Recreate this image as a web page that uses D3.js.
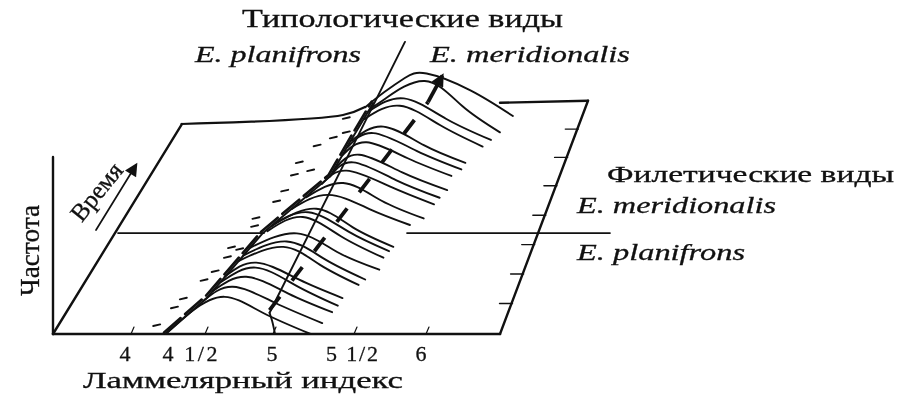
<!DOCTYPE html>
<html lang="en">

<head>
    <meta charset="UTF-8">
    <title>Ламмелярный индекс</title>
    <script src="https://d3js.org/d3.v7.min.js"></script>
    <style>
        html, body {
            margin: 0;
            background: #fff;
        }

        svg {
            display: block;
            filter: blur(0.45px);
        }

        text {
            font-family: "Liberation Serif", serif;
            fill: #111;
            stroke: #111;
            stroke-width: 0.3px;
        }

        .it {
            font-style: italic;
        }
    </style>
</head>

<body>
    <script>
        // Values. Index = lamellar index, freq = 0-100, time = 0-100
        const indexTicks = [4, 4.5, 5, 5.5, 6];
        const indexLabels = ["4", "4 1/2", "5", "5 1/2", "6"];
        const timeTicks = [14, 27.5, 41, 54.5, 68, 81, 94];

        const curveTimes = [0, 5, 10, 13, 16.5, 22.5, 25, 29.5, 35, 38, 40, 50, 53, 59.5, 62.5, 66, 72.5, 75.5, 78.5, 86, 89, 92.5, 100];
        const curveIndex = [
            [4.22, 4.40, 4.63, 4.91, 5.22],
            [4.43, 4.64, 4.95, 5.25],
            [4.45, 4.69, 5.00, 5.27],
            [4.48, 4.73, 5.02, 5.28],
            [4.47, 4.70, 5.01, 5.28],
            [4.51, 4.84, 5.09, 5.33],
            [4.52, 4.84, 5.10, 5.35],
            [4.53, 4.87, 5.14, 5.40],
            [4.60, 4.86, 5.12, 5.38],
            [4.60, 4.87, 5.14, 5.39],
            [4.61, 4.91, 5.15, 5.40],
            [4.63, 4.90, 5.17, 5.42],
            [4.71, 4.98, 5.22, 5.48],
            [4.76, 4.94, 5.22, 5.49],
            [4.79, 4.96, 5.23, 5.50],
            [4.79, 4.97, 5.24, 5.52],
            [4.78, 4.96, 5.22, 5.49],
            [4.79, 4.98, 5.25, 5.53],
            [4.79, 5.02, 5.27, 5.53],
            [4.81, 5.06, 5.31, 5.58],
            [4.81, 5.06, 5.32, 5.61],
            [4.79, 4.90, 5.16, 5.39, 5.64],
            [4.68, 4.82, 4.97, 5.11, 5.38, 5.66]
        ];
        const curveFreq = [
            [0, 13, 21, 12, 0],
            [12.5, 20.5, 11.5, 0],
            [12, 20, 10.5, 0],
            [13.5, 21.5, 11.5, 0],
            [12, 20, 10.5, 0],
            [13.5, 21.5, 11.5, 0],
            [13.5, 21.5, 11.5, 0],
            [12.5, 20.5, 10, 0],
            [15, 23, 12, 0],
            [14, 22, 11, 0],
            [13.5, 21.5, 11, 0],
            [9, 17, 9, 0],
            [12, 20, 10, 0],
            [11.5, 19, 10, 0],
            [12, 20, 10, 0],
            [12, 20, 10, 0],
            [11.5, 19, 10, 0],
            [12.5, 20.5, 10.5, 0],
            [12.5, 20.5, 10, 0],
            [15.5, 23, 12, 0],
            [16, 23.5, 12, 0],
            [13.5, 19, 29, 15, 0],
            [5, 13.5, 21.5, 24, 14.5, 0]
        ];

        // Ridge of the planifrons side and the loose dashes beside it (all taken at time 0)
        const ridgeIndex = [4.22, 4.50, 4.91, 5.34, 5.46, 5.62];
        const ridgeFreq = [0, 20.5, 57, 89, 108, 130.5];
        const strayIndex = [4.16, 4.28, 4.34, 4.48, 4.56, 4.65, 4.68, 4.74, 4.85, 4.86, 5.01, 5.06, 5.12, 5.22, 5.15, 5.26, 5.36, 5.44, 5.44];
        const strayFreq = [5, 15, 20, 30.5, 35.5, 43.5, 49, 48, 61, 65.5, 75, 81, 90, 92.5, 97, 106.5, 111, 114, 122];

        // Typological boundary and the phyletic mean
        const typoIndex = [5, 4.98, 4.96, 5.84];
        const typoFreq = [0, 7, 12, 165];
        const meanIndex = [4.96, 6.0];
        const meanFreq = [13.5, 131];
        const tipIndex = [6.0, 6.10];
        const tipFreq = [131, 146];
        const speciesTime = 46.3;

        const width = 903, height = 396;
        const baseY = 334;

        const svg = d3.select("body")
            .append("svg")
            .attr("width", width)
            .attr("height", height);

        svg.append("rect").attr("width", width).attr("height", height).attr("fill", "#fff");

        svg.append("defs").append("marker")
            .attr("id", "head")
            .attr("viewBox", "0 -5 10 10")
            .attr("refX", 8)
            .attr("markerUnits", "userSpaceOnUse")
            .attr("markerWidth", 15)
            .attr("markerHeight", 13)
            .attr("orient", "auto")
            .append("path")
            .attr("d", "M0,-5L10,0L0,5Z")
            .attr("fill", "#111");

        // Scales. The plane is oblique: time moves a point up and to the right
        const x = d3.scaleLinear().domain(indexTicks).range([133, 207, 275, 356, 428]);
        const t = d3.scaleLinear().domain([0, 100]).range([0, 218]);
        const f = d3.scaleLinear().domain([0, 100]).range([0, 177]);
        const shear = 0.614;
        const rightEdge = d3.scaleLinear().domain([0, 107]).range([500, 588]);

        const px = (index, time) => x(index) + shear * t(time);
        const py = (time, freq) => baseY - t(time) - f(freq);

        const hump = d3.line().curve(d3.curveNatural);
        const smooth = d3.line().curve(d3.curveCatmullRom.alpha(0.5));
        const straight = d3.line();

        function ink(d, w) {
            return svg.append("path")
                .attr("d", d)
                .attr("fill", "none")
                .attr("stroke", "#111")
                .attr("stroke-width", w)
                .attr("stroke-linecap", "round");
        }

        // Frame
        ink(straight([[53, baseY], [rightEdge(0), baseY]]), 2.6);
        ink(straight([[53, baseY], [53, baseY - f(100)]]), 2.4);
        ink(straight([[53, baseY], [53 + shear * t(96.3), py(96.3, 0)]]), 2.4);
        ink(straight([[rightEdge(0), baseY], [rightEdge(107), py(107, 0)]]), 2.4);
        ink(straight([[500, py(107, 0) + 2], [rightEdge(107), py(107, 0)]]), 2.4);

        // Right edge ticks
        timeTicks.forEach(d => {
            ink(straight([[rightEdge(d) - 12, py(d, 0)], [rightEdge(d) + 1, py(d, 0)]]), 1.4);
        });

        // Species boundary in time
        ink(straight([[118, py(speciesTime, 0)], [264, py(speciesTime, 0)]]), 1.7);
        ink(straight([[407, py(speciesTime, 0)], [610, py(speciesTime, 0)]]), 1.7);

        // Base ticks, slanted
        indexTicks.forEach(d => {
            ink(straight([[x(d) - 2, baseY], [x(d) + 1, baseY - 7]]), 1.2);
        });

        // Back edge running into the last curve
        ink(smooth([
            [181.5, 124],
            [343, 115],
            [365, 107]
        ]), 2.2);

        // Distribution curves
        curveTimes.forEach((time, k) => {
            const pts = curveIndex[k].map((d, i) => [px(d, time), py(time, curveFreq[k][i])]);
            ink(hump(pts), 1.9);
        });

        // Ridge and its dashes
        const ridge = ridgeIndex.map((d, i) => [x(d), py(0, ridgeFreq[i])]);
        ink(straight(ridge), 2);
        ink(straight(ridge.map(p => [p[0] - 1.5, p[1] - 1.5])), 2.6)
            .attr("stroke-dasharray", "22 6");

        strayIndex.forEach((d, i) => {
            const cx = x(d), cy = py(0, strayFreq[i]);
            ink(straight([[cx - 3.5, cy + 0.8], [cx + 3.5, cy - 0.8]]), 1.9);
        });

        // Typological line
        ink(smooth(typoIndex.slice(0, 3).map((d, i) => [x(d), py(0, typoFreq[i])])), 1.9);
        ink(straight(typoIndex.slice(2).map((d, i) => [x(d), py(0, typoFreq[i + 2])])), 1.9);

        // Phyletic mean, dashed, with an arrow at the top
        ink(straight(meanIndex.map((d, i) => [x(d), py(0, meanFreq[i])])), 3.8)
            .attr("stroke-linecap", "butt")
            .attr("stroke-dasharray", "17 20");
        ink(straight(tipIndex.map((d, i) => [x(d), py(0, tipFreq[i])])), 3.8)
            .attr("stroke-linecap", "butt")
            .attr("marker-end", "url(#head)");

        // Time arrow
        ink(straight([[96, 230], [136, 165]]), 1.7).attr("marker-end", "url(#head)");

        // Labels
        function label(str, xPos, yPos, size, len, cls) {
            return svg.append("text")
                .attr("x", xPos)
                .attr("y", yPos)
                .attr("font-size", size)
                .attr("class", cls || null)
                .attr("textLength", len)
                .attr("lengthAdjust", "spacingAndGlyphs")
                .text(str);
        }

        label("Типологические виды", 242, 27, 25, 321);
        label("E. planifrons", 195, 62, 24, 166, "it");
        label("E. meridionalis", 430, 62, 24, 200, "it");
        label("Филетические виды", 607, 182, 23, 287);
        label("E. meridionalis", 577, 213, 24, 199, "it");
        label("E. planifrons", 577, 260, 24, 168, "it");
        label("Ламмелярный индекс", 83, 388, 24, 320);

        // Tick labels sit a little left of their ticks
        const labelShift = [-8, -17, -3, -4, -7];
        const labelLength = [null, 55, null, 52, null];
        indexTicks.forEach((d, i) => {
            const tick = svg.append("text")
                .attr("x", x(d) + labelShift[i])
                .attr("y", 361)
                .attr("text-anchor", "middle")
                .attr("font-size", 22)
                .text(indexLabels[i]);
            if (labelLength[i]) tick.attr("textLength", labelLength[i]);
        });

        svg.append("text")
            .attr("transform", "translate(39,296) rotate(-90)")
            .attr("font-size", 27)
            .attr("textLength", 91)
            .attr("lengthAdjust", "spacingAndGlyphs")
            .text("Частота");

        svg.append("text")
            .attr("transform", "translate(103,197) rotate(-51)")
            .attr("text-anchor", "middle")
            .attr("font-size", 25)
            .text("Время");
    </script>
</body>

</html>
